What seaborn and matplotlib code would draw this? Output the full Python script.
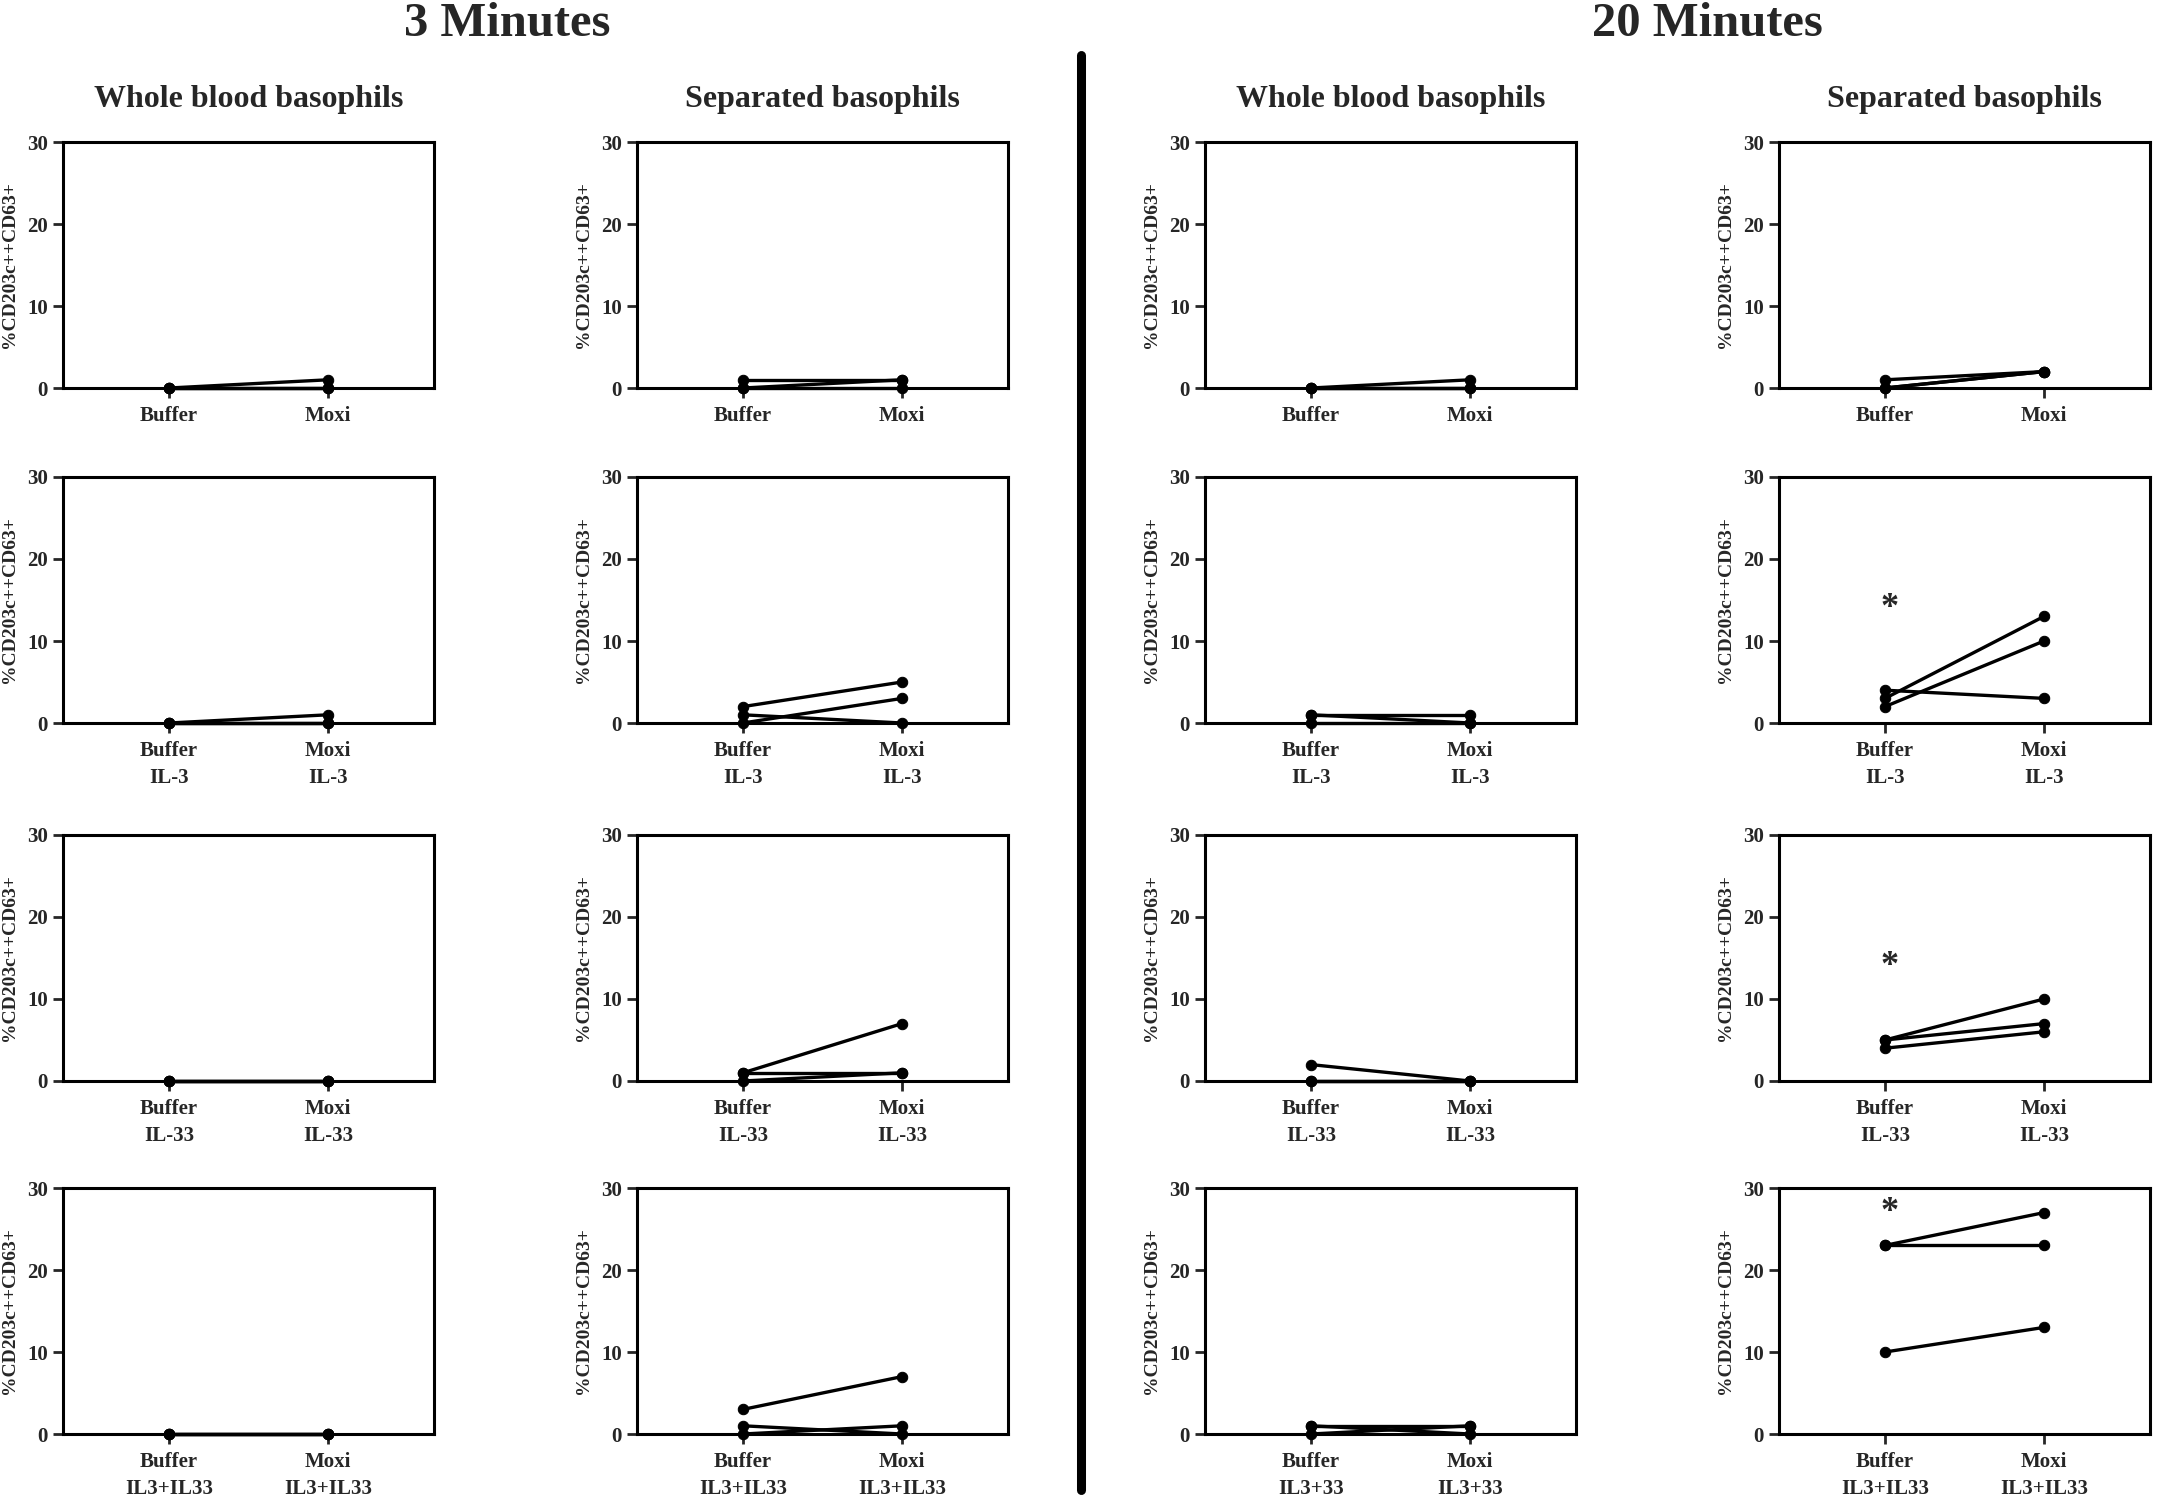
import pandas as pd
import matplotlib.pyplot as plt
import seaborn as sns
from matplotlib.lines import Line2D

sns.set_style("ticks")
plt.rcParams['font.family'] = ['Liberation Serif', 'DejaVu Serif']
plt.rcParams['font.weight'] = 'bold'

# ============================
# DATA: one value per donor, rows = stimulus
# ============================
time_titles = ["3 Minutes", "20 Minutes"]
cell_titles = ["Whole blood basophils", "Separated basophils",
               "Whole blood basophils", "Separated basophils"]
conditions = ["Buffer", "Moxi"]
stim_3min = ["", "IL-3", "IL-33", "IL3+IL33"]
stim_20min_wb = ["", "IL-3", "IL-33", "IL3+33"]
stim_20min_sep = ["", "IL-3", "IL-33", "IL3+IL33"]
ylabel = "%CD203c++CD63+"

# 3 minutes, whole blood
wb3_buffer = [[0, 0, 0], [0, 0, 0], [0, 0, 0], [0, 0, 0]]
wb3_moxi = [[1, 0, 0], [1, 0, 0], [0, 0, 0], [0, 0, 0]]
# 3 minutes, separated
sep3_buffer = [[1, 0, 0], [2, 0, 1], [1, 1, 0], [3, 1, 0]]
sep3_moxi = [[1, 1, 0], [5, 3, 0], [7, 1, 1], [7, 0, 1]]
# 20 minutes, whole blood
wb20_buffer = [[0, 0, 0], [1, 1, 0], [2, 0, 0], [1, 1, 0]]
wb20_moxi = [[1, 0, 0], [1, 0, 0], [0, 0, 0], [1, 0, 1]]
# 20 minutes, separated
sep20_buffer = [[1, 0, 0], [3, 2, 4], [5, 5, 4], [23, 23, 10]]
sep20_moxi = [[2, 2, 2], [13, 10, 3], [10, 7, 6], [27, 23, 13]]

# significance stars (column 4): row index and y position
star_rows = [1, 2, 3]
star_y = [14, 14, 27]

columns = [
    (wb3_buffer, wb3_moxi, stim_3min),
    (sep3_buffer, sep3_moxi, stim_3min),
    (wb20_buffer, wb20_moxi, stim_20min_wb),
    (sep20_buffer, sep20_moxi, stim_20min_sep),
]

# ============================
# LAYOUT (pixel positions of the axes boxes)
# ============================
W, H = 2158, 1502
fig = plt.figure(figsize=(W / 100, H / 100), dpi=100)
col_left = [63, 637, 1205, 1779]
row_top = [142, 477, 835, 1188]
ax_w, ax_h = 371, 246

for c, (buf, moxi, stims) in enumerate(columns):
    for r in range(4):
        ax = fig.add_axes([col_left[c] / W, 1 - (row_top[r] + ax_h) / H, ax_w / W, ax_h / H])
        rows = []
        for d in range(len(buf[r])):
            rows.append({"donor": d, "x": 0, "value": buf[r][d]})
            rows.append({"donor": d, "x": 1, "value": moxi[r][d]})
        df = pd.DataFrame(rows)
        sns.lineplot(data=df, x="x", y="value", units="donor", estimator=None,
                     color="black", linewidth=2.4, marker="o", markersize=7.5,
                     markeredgecolor="black", clip_on=False, zorder=4,
                     legend=False, ax=ax)

        ax.set_xlim(-2 / 3, 5 / 3)
        ax.set_ylim(0, 30)
        ax.set_yticks([0, 10, 20, 30])
        ax.set_xticks([0, 1])
        if stims[r]:
            ax.set_xticklabels([f"{cnd}\n{stims[r]}" for cnd in conditions])
        else:
            ax.set_xticklabels(conditions)
        ax.set_xlabel("")
        ax.set_ylabel(ylabel, fontsize=14, fontweight="bold")
        ax.yaxis.set_label_coords(-0.12, 0.5)
        ax.tick_params(axis="both", direction="out", length=7, width=2,
                       labelsize=15, pad=4)
        ax.tick_params(axis="x", pad=6)
        for lab in ax.get_xticklabels() + ax.get_yticklabels():
            lab.set_fontweight("bold")
            lab.set_linespacing(1.45)
        for s in ax.spines.values():
            s.set_visible(True)
            s.set_linewidth(2.2)
            s.set_color("black")

        if c == 3 and r in star_rows:
            ax.text(0.03, star_y[star_rows.index(r)], "*", ha="center",
                    va="center", fontsize=26, fontweight="bold")

# column titles
for c in range(4):
    fig.text((col_left[c] + ax_w / 2) / W, 1 - 100 / H, cell_titles[c],
             ha="center", va="center", fontsize=23, fontweight="bold")

# time titles
fig.text(507 / W, 1 - 24 / H, time_titles[0], ha="center", va="center",
         fontsize=35, fontweight="bold")
fig.text(1707 / W, 1 - 24 / H, time_titles[1], ha="center", va="center",
         fontsize=35, fontweight="bold")

# divider between the two time points
fig.add_artist(Line2D([1080.5 / W, 1080.5 / W], [1 - 55 / H, 1 - 1490 / H],
                      transform=fig.transFigure, color="black",
                      linewidth=6.5, solid_capstyle="round"))

fig.savefig("out.png", dpi=100, facecolor="white")
